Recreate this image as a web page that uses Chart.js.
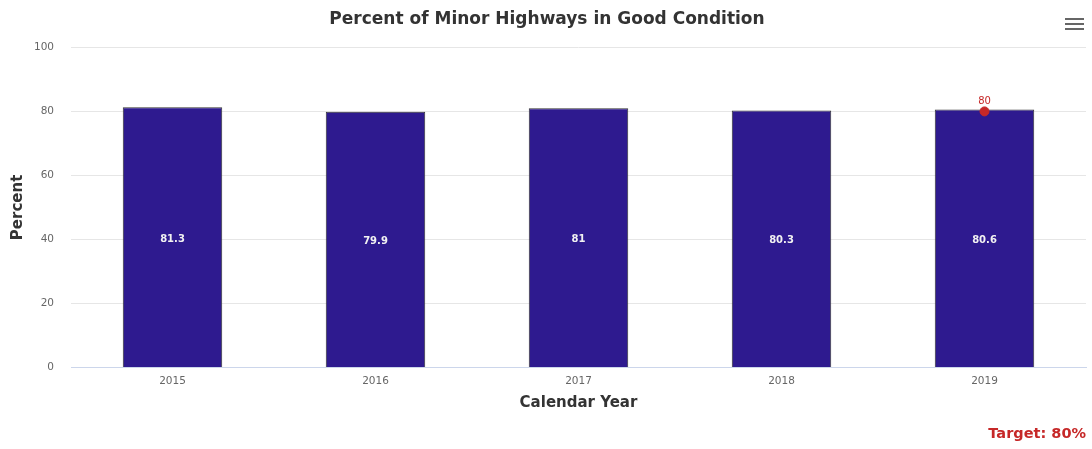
<!DOCTYPE html>
<html>
<head>
<meta charset="utf-8">
<script src="https://cdn.jsdelivr.net/npm/chart.js@4"></script>
<style>
  html, body { margin: 0; padding: 0; background: #fff; }
  #wrap { position: relative; width: 1092px; height: 449px; }
  .menu { position: absolute; left: 1065px; width: 19px; height: 2px; background: #666; }
  #target {
    position: absolute; right: 6px; top: 425px;
    font: bold 14.5px "DejaVu Sans", Arial, sans-serif; color: #c62828;
  }
</style>
</head>
<body>
<div id="wrap">
  <canvas id="chart" width="1092" height="449"></canvas>
  <div class="menu" style="top:18px"></div>
  <div class="menu" style="top:23px"></div>
  <div class="menu" style="top:28px"></div>
  <div id="target">Target: 80%</div>
</div>
<script>
// Données
const years = ['2015', '2016', '2017', '2018', '2019']
const goodCondition = [81.3, 79.9, 81, 80.3, 80.6]
const targetValues = [null, null, null, null, 80]

const FONT = '"DejaVu Sans", Arial, sans-serif'

// Étiquettes de valeurs (pas de plugin datalabels dispo)
const valueLabels = {
  id: 'valueLabels',
  afterDatasetsDraw(chart) {
    const ctx = chart.ctx
    ctx.save()
    ctx.textAlign = 'center'
    ctx.textBaseline = 'middle'
    chart.getDatasetMeta(0).data.forEach((bar, i) => {
      ctx.font = 'bold 10px ' + FONT
      ctx.fillStyle = '#f2f2f2'
      ctx.fillText(goodCondition[i], bar.x, (bar.y + bar.base) / 2 + 2)
    })
    chart.getDatasetMeta(1).data.forEach((pt, i) => {
      if (targetValues[i] == null) return
      ctx.font = '10px ' + FONT
      ctx.fillStyle = '#c62828'
      ctx.fillText(targetValues[i], pt.x, pt.y - 10)
    })
    ctx.restore()
  }
}

new Chart(document.getElementById('chart'), {
  data: {
    labels: years,
    datasets: [
      {
        type: 'bar',
        label: 'Percent',
        data: goodCondition,
        backgroundColor: '#2e1a8f',
        borderColor: '#333333',
        borderWidth: 1,
        barPercentage: 0.98,
        categoryPercentage: 0.5,
        order: 2
      },
      {
        type: 'line',
        label: 'Target',
        data: targetValues,
        showLine: false,
        pointRadius: 4.5,
        pointBackgroundColor: '#c62828',
        pointBorderColor: '#c62828',
        order: 1
      }
    ]
  },
  plugins: [valueLabels],
  options: {
    responsive: false,
    animation: false,
    layout: { padding: { left: 8, right: 6, top: 0, bottom: 38 } },
    plugins: {
      legend: { display: false },
      tooltip: { enabled: false },
      title: {
        display: true,
        text: 'Percent of Minor Highways in Good Condition',
        color: '#333333',
        font: { family: FONT, size: 17, weight: 'bold' },
        padding: { top: 9, bottom: 18 }
      }
    },
    scales: {
      x: {
        grid: { display: false, drawTicks: false },
        border: { color: '#ccd6eb' },
        ticks: { color: '#666666', font: { family: FONT, size: 10.5 }, padding: 8 },
        title: {
          display: true,
          text: 'Calendar Year',
          color: '#333333',
          font: { family: FONT, size: 15, weight: 'bold', lineHeight: 1 },
          padding: { top: 0, bottom: 0 }
        }
      },
      y: {
        min: 0,
        max: 100,
        afterFit: (scale) => { scale.width = 63 },
        ticks: { stepSize: 20, color: '#666666', font: { family: FONT, size: 10.5 }, padding: 17 },
        grid: { color: '#e6e6e6', drawTicks: false },
        border: { display: false },
        title: {
          display: true,
          text: 'Percent',
          color: '#333333',
          font: { family: FONT, size: 15, weight: 'bold' },
          padding: { top: 1, bottom: 0 }
        }
      }
    }
  }
})
</script>
</body>
</html>
